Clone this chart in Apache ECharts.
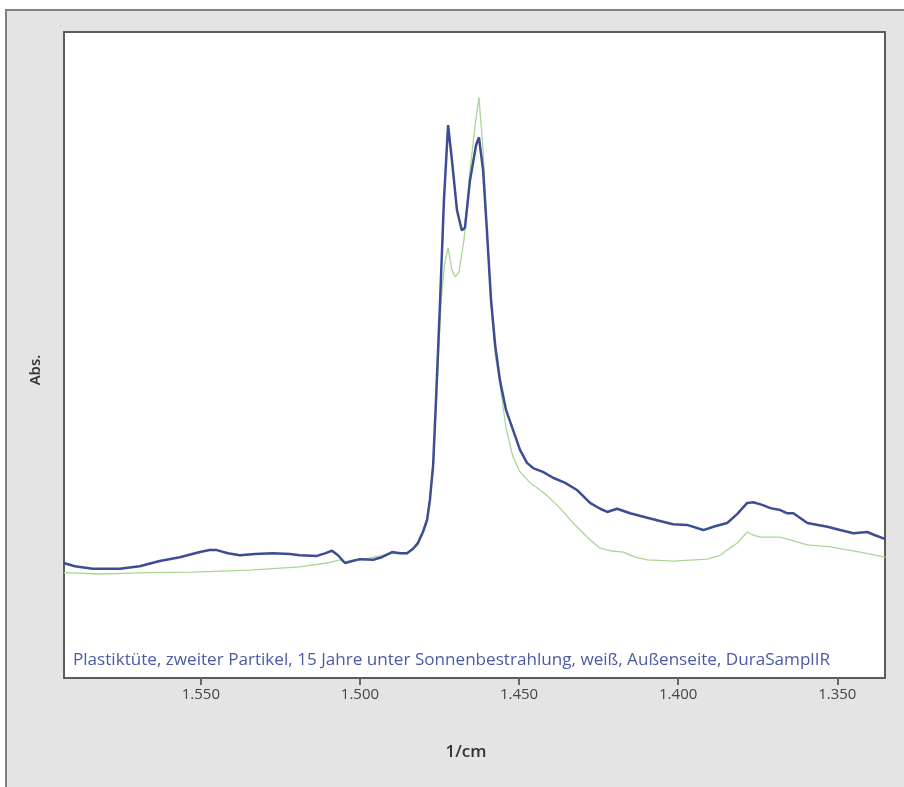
<!DOCTYPE html>
<html>
<head>
<meta charset="utf-8">
<script src="https://cdn.jsdelivr.net/npm/echarts@6/dist/echarts.min.js"></script>
<style>
html,body{margin:0;padding:0;background:#ffffff;}
#chart{width:904px;height:787px;}
</style>
</head>
<body>
<div id="chart"></div>
<script>
// Wavenumbers (1/cm) and absorbance values
const blueWn = [1593.1,1589.6,1584.0,1578.6,1575.5,1569.2,1562.9,1556.6,1550.3,1547.2,1545.0,1541.5,1537.7,1533.0,1527.4,1522.0,1518.9,1513.5,1511.0,1508.8,1506.9,1504.7,1502.5,1500.0,1495.9,1493.1,1489.9,1487.4,1485.2,1483.3,1481.8,1480.2,1478.9,1478.0,1477.0,1476.1,1474.8,1473.6,1472.3,1471.1,1469.5,1468.0,1467.0,1465.4,1463.5,1462.6,1461.3,1460.1,1458.8,1457.5,1456.0,1454.1,1451.9,1449.7,1447.5,1445.6,1442.5,1439.3,1435.5,1431.8,1429.9,1427.7,1424.5,1422.3,1419.2,1415.1,1409.7,1405.7,1401.6,1397.2,1392.1,1388.4,1384.6,1381.4,1378.3,1376.4,1373.6,1371.0,1367.9,1365.7,1363.8,1359.4,1353.1,1349.1,1344.9,1340.6,1338.1,1334.9];
const blueAbs = [0.178,0.173,0.169,0.169,0.169,0.173,0.181,0.187,0.195,0.198,0.198,0.193,0.190,0.192,0.193,0.192,0.190,0.189,0.193,0.197,0.190,0.178,0.181,0.184,0.183,0.187,0.195,0.193,0.193,0.200,0.209,0.226,0.245,0.276,0.330,0.430,0.585,0.740,0.856,0.802,0.724,0.693,0.697,0.771,0.825,0.837,0.786,0.693,0.585,0.515,0.461,0.415,0.384,0.353,0.333,0.325,0.319,0.310,0.302,0.291,0.282,0.271,0.262,0.257,0.262,0.255,0.248,0.243,0.238,0.237,0.229,0.235,0.240,0.254,0.271,0.272,0.268,0.263,0.260,0.255,0.255,0.240,0.234,0.229,0.224,0.226,0.221,0.215];
const greenWn = [1593.1,1581.8,1566.0,1552.5,1534.6,1518.9,1510.4,1506.3,1504.7,1500.0,1489.9,1485.2,1481.8,1478.9,1477.0,1475.8,1474.5,1473.3,1472.3,1471.1,1470.1,1468.9,1467.3,1465.4,1463.8,1462.6,1461.3,1460.1,1458.8,1457.5,1456.0,1454.1,1451.9,1449.7,1446.5,1442.5,1438.1,1435.5,1433.0,1430.2,1427.7,1424.5,1421.4,1417.3,1413.5,1409.7,1401.6,1390.9,1386.8,1384.6,1381.4,1378.3,1376.4,1374.2,1367.9,1359.4,1352.2,1342.8,1334.9];
const greenAbs = [0.163,0.161,0.163,0.164,0.167,0.172,0.178,0.183,0.178,0.183,0.193,0.192,0.206,0.241,0.322,0.446,0.585,0.644,0.666,0.632,0.621,0.628,0.678,0.786,0.856,0.899,0.817,0.693,0.577,0.500,0.454,0.387,0.342,0.319,0.302,0.288,0.268,0.254,0.240,0.226,0.214,0.201,0.197,0.195,0.187,0.183,0.181,0.184,0.190,0.198,0.209,0.226,0.221,0.218,0.218,0.206,0.203,0.195,0.187];
const tickValues = [1350, 1400, 1450, 1500, 1550];
const xName = '1/cm';
const yName = 'Abs.';
const caption = 'Plastiktüte, zweiter Partikel, 15 Jahre unter Sonnenbestrahlung, weiß, Außenseite, DuraSamplIR';

function pairs(xs, ys){ return xs.map((x,i)=>[x, ys[i]]); }
function fmt(v){ const s = String(Math.round(v)); return s.length>3 ? s.slice(0,s.length-3)+'.'+s.slice(s.length-3) : s; }

// measure caption to fit a condensed look
const capFont = '17px "Open Sans"';
const cv = document.createElement('canvas').getContext('2d');
cv.font = capFont;
const capW = cv.measureText(caption).width;
const capScale = 757 / capW;

const chart = echarts.init(document.getElementById('chart'), null, {renderer:'canvas'});
chart.setOption({
  backgroundColor: '#ffffff',
  animation: false,
  graphic: [
    {type:'rect', z:-10, shape:{x:6, y:10, width:920, height:800}, style:{fill:'#e4e4e4', stroke:'#808080', lineWidth:2}},
    {type:'text', z:10, x:36, y:370, rotation:Math.PI/2, style:{text:yName, font:'600 15px "Open Sans"', fill:'#333', align:'center', verticalAlign:'middle'}},
    {type:'text', z:10, x:466, y:752, style:{text:xName, font:'600 17px "Open Sans"', fill:'#333', align:'center', verticalAlign:'middle'}},
    {type:'text', z:10, x:73, y:660, scaleX:capScale, style:{text:caption, font:capFont, fill:'#4a5aa6', align:'left', verticalAlign:'middle'}}
  ],
  grid: {left:64, top:32, width:821, height:646, show:true, backgroundColor:'#ffffff', borderColor:'#5c5c5c', borderWidth:2},
  xAxis: {
    type:'value', min:1335, max:1593, inverse:true,
    axisLine:{show:false},
    axisTick:{show:true, length:7, inside:false, customValues:tickValues, lineStyle:{color:'#666', width:2}},
    axisLabel:{show:true, customValues:tickValues, formatter:fmt, margin:9, color:'#444', fontSize:15, fontFamily:'Open Sans'},
    splitLine:{show:false}
  },
  yAxis: {
    type:'value', min:0, max:1,
    axisLine:{show:false}, axisTick:{show:false}, axisLabel:{show:false}, splitLine:{show:false}
  },
  series: [
    {type:'line', name:'green', data:pairs(greenWn, greenAbs), showSymbol:false, smooth:false, lineStyle:{color:'#a9d792', width:1.3}, z:2},
    {type:'line', name:'blue', data:pairs(blueWn, blueAbs), showSymbol:false, smooth:false, lineStyle:{color:'#3c4d94', width:2.5}, z:3}
  ]
});
</script>
</body>
</html>
